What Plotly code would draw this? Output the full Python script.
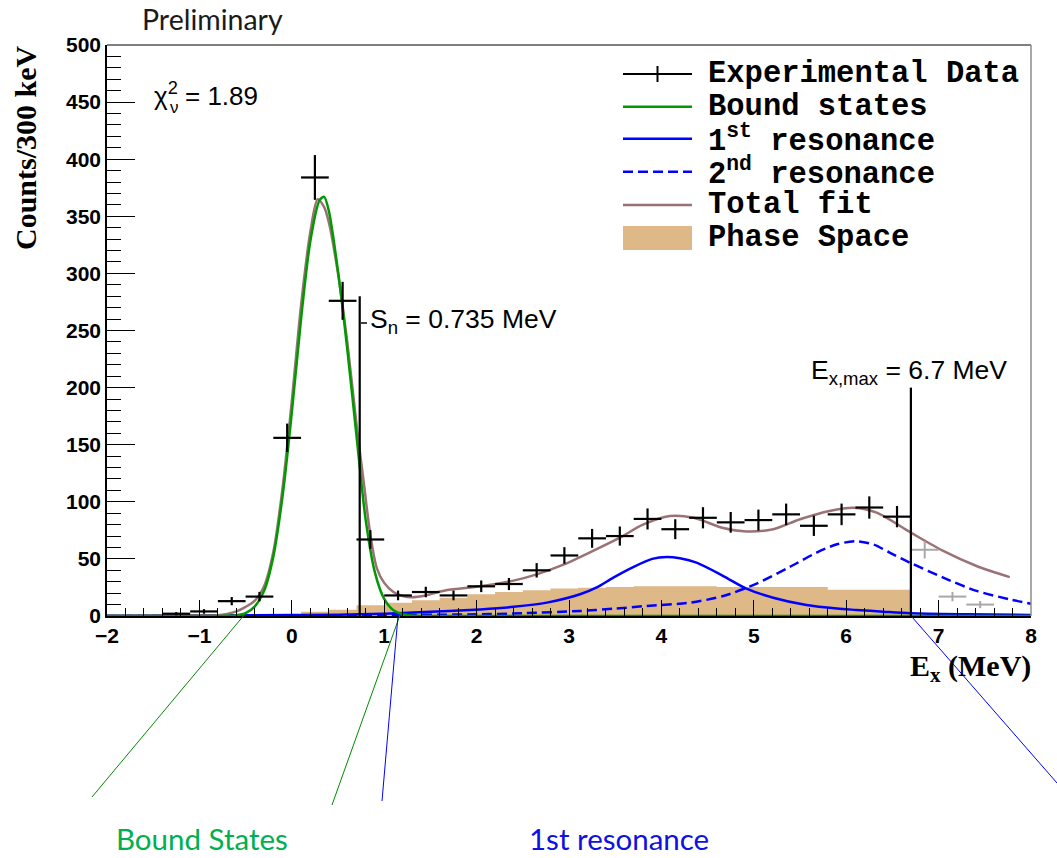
import numpy as np
import plotly.graph_objects as go

# ---------------- data ----------------
BIN_WIDTH = 0.3  # MeV

# measured excitation-energy spectrum (bins inside the accepted range)
ex_centers = [-1.25, -0.95, -0.65, -0.35, -0.05, 0.25, 0.55, 0.85, 1.15, 1.45,
              1.75, 2.05, 2.35, 2.65, 2.95, 3.25, 3.55, 3.85, 4.15, 4.45,
              4.75, 5.05, 5.35, 5.65, 5.95, 6.25, 6.55]
ex_counts = [2, 4, 13, 17, 156, 384, 276, 67, 18, 21,
             18, 26, 28, 40, 53, 68, 70, 85, 76, 86,
             82, 84, 89, 79, 89, 95, 87]

# bins above E_x,max (shown in grey)
ex_out_centers = [6.85, 7.15, 7.45]
ex_out_counts = [58, 17, 10]

# phase-space histogram
ps_centers = [0.25, 0.55, 0.85, 1.15, 1.45, 1.75, 2.05, 2.35, 2.65, 2.95, 3.25,
              3.55, 3.85, 4.15, 4.45, 4.75, 5.05, 5.35, 5.65, 5.95, 6.25, 6.55]
ps_counts = [3.8, 5.5, 9.4, 11.7, 13.7, 16, 19, 21, 22.5, 24, 24.8,
             25.4, 26, 26, 26, 25.5, 25.5, 25.5, 25.3, 23, 23, 23]

# fit components
bound_e = [-2.0, -1.0, -0.7, -0.6, -0.5, -0.4, -0.3, -0.2, -0.1, 0.0, 0.1, 0.2, 0.3,
           0.35, 0.4, 0.5, 0.6, 0.7, 0.8, 0.9, 1.0, 1.1, 1.2, 1.3, 1.45, 8.0]
bound_y = [0, 0, 0.2, 0.7, 2.5, 8.5, 22, 52, 105, 178, 260, 328, 364,
           367, 355, 302, 234, 158, 84, 38, 15, 5, 1.5, 0.4, 0, 0]

res1_e = [-2.0, 0.0, 0.5, 1.0, 1.31, 1.7, 2.04, 2.4, 2.76, 3.12, 3.3, 3.48, 3.7, 3.9,
          4.06, 4.2, 4.38, 4.67, 4.92, 5.21, 5.57, 5.9, 6.11, 6.4, 6.7, 7.3, 8.0]
res1_y = [0.2, 0.8, 1.2, 2.0, 3.0, 4.3, 5.8, 8.0, 11.7, 19, 25, 33.6, 43, 50,
          51.7, 50.5, 46.7, 35, 24, 16, 9.6, 6.5, 5.3, 3.8, 2.4, 1.5, 0.9]

res2_e = [-2.0, 0.0, 1.0, 2.04, 2.5, 3.12, 3.5, 3.84, 4.31, 4.67, 5.03, 5.39, 5.68,
          5.9, 6.11, 6.3, 6.47, 6.69, 7.05, 7.41, 7.77, 8.0]
res2_y = [0.1, 0.3, 0.8, 1.5, 2.5, 4.4, 6.5, 8.8, 11.7, 17.5, 28.3, 43, 55.5,
          62.8, 65.5, 62.5, 55.5, 46.7, 33.6, 22, 14.6, 10.8]

total_e = [-2.0, -1.0, -0.8, -0.7, -0.6, -0.5, -0.4, -0.3, -0.2, -0.1, 0.0, 0.1, 0.2,
           0.28, 0.35, 0.4, 0.5, 0.6, 0.7, 0.78, 0.85, 0.92, 1.0, 1.1, 1.2, 1.3,
           1.45, 1.67, 2.04, 2.4, 2.65, 2.94, 3.26, 3.55, 3.8, 4.09, 4.35, 4.67,
           4.92, 5.21, 5.5, 5.82, 6.08, 6.33, 6.7, 7.05, 7.41, 7.77]
total_y = [0.3, 0.4, 0.6, 1.8, 4, 8, 13.5, 26, 56, 112, 188, 272, 336,
           365, 358, 345, 300, 240, 168, 116, 71, 42, 29, 21, 17.5, 16.5,
           18, 22.5, 26, 31, 36.5, 45, 57, 68.6, 80, 87.6, 86, 77,
           74, 76, 84.7, 92, 94.8, 90.5, 73, 57, 43.8, 34]

# reference energies (MeV) and heights of their marker lines (counts)
S_N = 0.735
S_N_LINE_TOP = 280
EX_MAX = 6.7
EX_MAX_LINE_TOP = 200

# ---------------- styling ----------------
W, H = 1057, 858
ML, MR, MT, MB = 107, 26, 45, 242
PW, PH = W - ML - MR, H - MT - MB

GREEN = "#009900"
BLUE = "#0000ff"
BROWN = "#9a7274"
TAN = "#deb887"
DASH = "10px,5px"


def px(x):
    """pixel column -> paper x"""
    return (x - ML) / PW


def py(y):
    """pixel row -> paper y"""
    return (MT + PH - y) / PH


fig = go.Figure()

# phase space drawn as a filled step outline (bin left edges + final right edge)
ps_edges = [c - BIN_WIDTH / 2 for c in ps_centers] + [ps_centers[-1] + BIN_WIDTH / 2]
ps_steps = list(ps_counts) + [ps_counts[-1]]
fig.add_trace(go.Scatter(x=ps_edges, y=ps_steps, mode="lines",
                         line=dict(color=TAN, width=0, shape="hv"),
                         fill="tozeroy", fillcolor=TAN, hoverinfo="skip"))

# resonances
fig.add_trace(go.Scatter(x=res1_e, y=res1_y, mode="lines",
                         line=dict(color=BLUE, width=2.5, shape="spline", smoothing=0.8)))
fig.add_trace(go.Scatter(x=res2_e, y=res2_y, mode="lines",
                         line=dict(color=BLUE, width=2.5, dash=DASH,
                                   shape="spline", smoothing=0.8)))
# total fit
fig.add_trace(go.Scatter(x=total_e, y=total_y, mode="lines",
                         line=dict(color=BROWN, width=2.5, shape="spline", smoothing=0.8)))
# bound states
fig.add_trace(go.Scatter(x=bound_e, y=bound_y, mode="lines",
                         line=dict(color=GREEN, width=2.5, shape="spline", smoothing=0.8)))

# data points above E_x,max
fig.add_trace(go.Scatter(
    x=ex_out_centers, y=ex_out_counts, mode="markers",
    marker=dict(size=1, color="#a0a0a0"),
    error_x=dict(type="constant", value=BIN_WIDTH / 2, width=0, thickness=2, color="#a8a8a8"),
    error_y=dict(type="data", array=np.sqrt(ex_out_counts), width=0, thickness=2, color="#a8a8a8"),
))
# experimental data
fig.add_trace(go.Scatter(
    x=ex_centers, y=ex_counts, mode="markers",
    marker=dict(size=1, color="black"),
    error_x=dict(type="constant", value=BIN_WIDTH / 2, width=0, thickness=2.2, color="black"),
    error_y=dict(type="data", array=np.sqrt(ex_counts), width=0, thickness=2.2, color="black"),
))

# threshold / limit lines
fig.add_trace(go.Scatter(x=[S_N, S_N], y=[0, S_N_LINE_TOP], mode="lines",
                         line=dict(color="black", width=2.2)))
fig.add_trace(go.Scatter(x=[EX_MAX, EX_MAX], y=[0, EX_MAX_LINE_TOP], mode="lines",
                         line=dict(color="black", width=2.2)))

tickfont = dict(family="Liberation Sans", size=21, color="black", weight="bold")

fig.update_xaxes(range=[-2, 8], tickmode="linear", tick0=-2, dtick=1,
                 ticks="inside", ticklen=16, tickwidth=1, tickcolor="black",
                 minor=dict(dtick=0.2, ticks="inside", ticklen=8, tickcolor="black"),
                 showline=True, linecolor="black", linewidth=1.5,
                 showgrid=False, zeroline=False, tickfont=tickfont)
fig.update_yaxes(range=[0, 500], tickmode="linear", tick0=0, dtick=50,
                 ticks="inside", ticklen=28, tickwidth=1, tickcolor="black",
                 minor=dict(dtick=10, ticks="inside", ticklen=14, tickcolor="black"),
                 showline=True, linecolor="black", linewidth=1.5,
                 showgrid=False, zeroline=False, tickfont=tickfont)

shapes = [
    # top and right frame
    dict(type="line", xref="paper", yref="paper", x0=0, x1=1, y0=1, y1=1,
         line=dict(color="black", width=1.2)),
    dict(type="line", xref="paper", yref="paper", x0=1, x1=1, y0=0, y1=1,
         line=dict(color="#8c8c8c", width=1.5)),
    # small dash next to the S_n label
    dict(type="line", xref="paper", yref="paper", x0=px(361), x1=px(367), y0=py(323), y1=py(323),
         line=dict(color="black", width=1.5)),
    # pointer lines to the labels below the axis
    dict(type="line", xref="paper", yref="paper", x0=px(245), y0=py(614), x1=px(92), y1=py(797),
         line=dict(color="#008a00", width=1)),
    dict(type="line", xref="paper", yref="paper", x0=px(400), y0=py(615), x1=px(332), y1=py(805),
         line=dict(color="#008a00", width=1)),
    dict(type="line", xref="paper", yref="paper", x0=px(398), y0=py(616), x1=px(382), y1=py(801),
         line=dict(color=BLUE, width=1)),
    dict(type="line", xref="paper", yref="paper", x0=px(912), y0=py(617), x1=px(1057), y1=py(783),
         line=dict(color=BLUE, width=1)),
]

# legend keys
LX0, LX1 = 623, 692
rows = [74, 106.7, 138.7, 171.7, 205, 237.7]
shapes += [
    dict(type="line", xref="paper", yref="paper", x0=px(LX0), x1=px(LX1), y0=py(rows[0]), y1=py(rows[0]),
         line=dict(color="black", width=2)),
    dict(type="line", xref="paper", yref="paper", x0=px((LX0 + LX1) / 2), x1=px((LX0 + LX1) / 2),
         y0=py(rows[0] - 8), y1=py(rows[0] + 8), line=dict(color="black", width=2)),
    dict(type="line", xref="paper", yref="paper", x0=px(LX0), x1=px(LX1), y0=py(rows[1]), y1=py(rows[1]),
         line=dict(color=GREEN, width=2.5)),
    dict(type="line", xref="paper", yref="paper", x0=px(LX0), x1=px(LX1), y0=py(rows[2]), y1=py(rows[2]),
         line=dict(color=BLUE, width=2.5)),
    dict(type="line", xref="paper", yref="paper", x0=px(LX0), x1=px(LX1), y0=py(rows[3]), y1=py(rows[3]),
         line=dict(color=BLUE, width=2.5, dash=DASH)),
    dict(type="line", xref="paper", yref="paper", x0=px(LX0), x1=px(LX1), y0=py(rows[4]), y1=py(rows[4]),
         line=dict(color=BROWN, width=2.5)),
    dict(type="rect", xref="paper", yref="paper", x0=px(LX0), x1=px(LX1), y0=py(226), y1=py(250),
         fillcolor=TAN, line=dict(width=0)),
]

legend_labels = ["Experimental Data", "Bound states", "1<sup>st</sup> resonance",
                 "2<sup>nd</sup> resonance", "Total fit", "Phase Space"]
legend_font = dict(family="Liberation Mono", size=30.5, color="black", weight="bold")

annotations = []
for lab, r in zip(legend_labels, rows):
    annotations.append(dict(x=px(706), y=py(r), xref="paper", yref="paper", text=lab,
                            showarrow=False, xanchor="left", yanchor="middle", font=legend_font))

sans = "Liberation Sans"
annotations += [
    dict(x=px(140), y=py(19), text="Preliminary", showarrow=False, xanchor="left", yanchor="middle",
         xref="paper", yref="paper", font=dict(family="Lato", size=28.5, color="#1a1a1a")),
    dict(x=px(152), y=py(95), text="χ<sup>2</sup> = 1.89", showarrow=False, xanchor="left",
         yanchor="middle", xref="paper", yref="paper", font=dict(family=sans, size=26, color="black")),
    dict(x=px(174), y=py(107), text="ν", showarrow=False, xanchor="center", yanchor="middle",
         xref="paper", yref="paper", font=dict(family=sans, size=17, color="black")),
    dict(x=px(368), y=py(321), text="S<sub>n</sub> = 0.735 MeV", showarrow=False, xanchor="left",
         yanchor="middle", xref="paper", yref="paper", font=dict(family=sans, size=26.5, color="black")),
    dict(x=px(809), y=py(372), text="E<sub>x,max</sub> = 6.7 MeV", showarrow=False, xanchor="left",
         yanchor="middle", xref="paper", yref="paper", font=dict(family=sans, size=26.5, color="black")),
    # axis titles
    dict(x=px(25), y=py(148), text="Counts/300 keV", showarrow=False, textangle=-90,
         xanchor="center", yanchor="middle", xref="paper", yref="paper",
         font=dict(family="Liberation Serif", size=30, color="black", weight="bold")),
    dict(x=px(1033), y=py(668), text="E<sub>x</sub> (MeV)", showarrow=False, xanchor="right",
         yanchor="middle", xref="paper", yref="paper",
         font=dict(family="Liberation Serif", size=30, color="black", weight="bold")),
    # labels below the frame
    dict(x=px(202), y=py(857), text="Bound States", showarrow=False, xanchor="center",
         yanchor="bottom", xref="paper", yref="paper", borderpad=0,
         font=dict(family="Lato", size=29.5, color="#00b050")),
    dict(x=px(619), y=py(857), text="1st resonance", showarrow=False, xanchor="center",
         yanchor="bottom", xref="paper", yref="paper", borderpad=0,
         font=dict(family="Lato", size=29.5, color="#1010e0")),
]

fig.update_layout(
    width=W, height=H,
    margin=dict(l=ML, r=MR, t=MT, b=MB, pad=0),
    paper_bgcolor="white", plot_bgcolor="white",
    showlegend=False,
    shapes=shapes,
    annotations=annotations,
)

fig.write_html("out.html")
